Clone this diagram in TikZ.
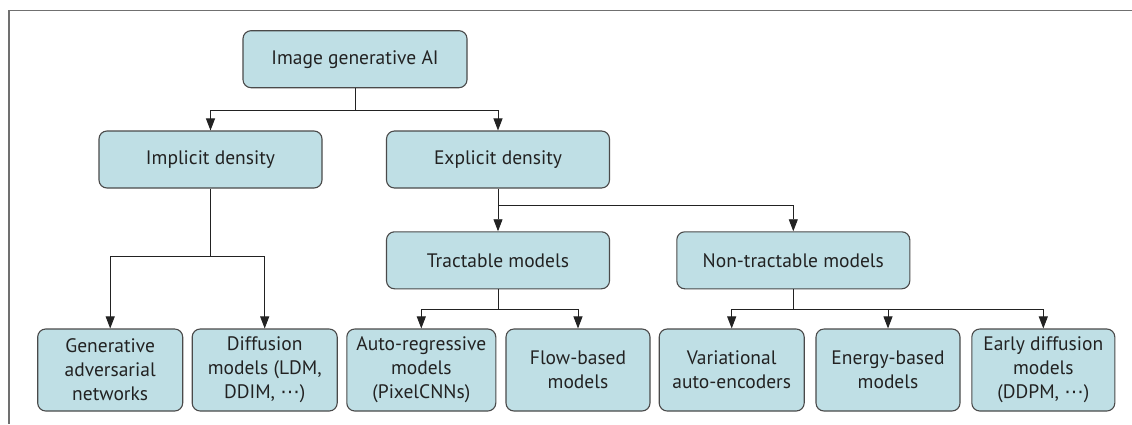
\documentclass[tikz,border=0pt]{standalone}
\usepackage{fontspec}
\setmainfont{PT Sans}
\newfontfamily\symfont{DejaVu Sans}
\usetikzlibrary{arrows.meta}
\definecolor{boxfill}{HTML}{BFDFE5}
\definecolor{boxline}{HTML}{4A4A4A}
\definecolor{framecol}{HTML}{707070}
\definecolor{txt}{HTML}{222222}
\newcommand{\midellip}{{\symfont ⋯}}
\tikzset{
  box/.style={draw=boxline, line width=1.1pt, fill=boxfill, rounded corners=8pt,
    align=center, inner sep=0pt, text=txt,
    font=\fontsize{19.5}{24}\selectfont},
  midbox/.style={box, minimum height=57pt},
  leafbox/.style={box, minimum height=82pt, minimum width=145pt},
  link/.style={draw=txt, line width=0.9pt},
  arr/.style={link, -{Triangle[length=12pt,width=9pt]}}
}
\begin{document}
\begin{tikzpicture}[x=1pt, y=-1pt]
  \useasboundingbox (0,0) rectangle (1132,424);
  % open frame along the top and left
  \draw[framecol, line width=1.5pt] (1132,10.7) -- (9,10.7) -- (9,424);

  % hierarchy
  \node[midbox, minimum width=224pt] (root) at (355,59.2) {Image generative AI};
  \node[midbox, minimum width=223pt] (impl) at (210.5,159.5) {Implicit density};
  \node[midbox, minimum width=223pt] (expl) at (498,159.5) {Explicit density};
  \node[midbox, minimum width=223pt] (trac) at (498,260.3) {Tractable models};
  \node[midbox, minimum width=233pt] (nont) at (793.3,260.3) {Non-tractable models};

  \node[leafbox] (gan)   at (110.2,370) {Generative\\adversarial\\networks};
  \node[leafbox] (diff)  at (264.7,370) {Diffusion\\models (LDM,\\DDIM, \midellip)};
  \node[leafbox, minimum width=149pt] (ar) at (421.3,370) {Auto-regressive\\models\\(PixelCNNs)};
  \node[leafbox, minimum width=144pt] (flow) at (578,370) {Flow-based\\models};
  \node[leafbox] (vae)   at (731.7,370) {Variational\\auto-encoders};
  \node[leafbox, minimum width=144pt] (ebm) at (888,370) {Energy-based\\models};
  \node[leafbox, minimum width=143pt] (early) at (1043.3,370) {Early diffusion\\models\\(DDPM, \midellip)};

  % branch points
  \coordinate (j1) at (355,110);
  \coordinate (j2) at (210.5,256.7);
  \coordinate (j3) at (498,205);
  \coordinate (j4) at (498,309);
  \coordinate (j5) at (793.3,309);

  % connectors
  \draw[link] (root.south) -- (j1);
  \draw[arr] (j1) -| (impl.north);
  \draw[arr] (j1) -| (expl.north);

  \draw[link] (impl.south) -- (j2);
  \draw[arr] (j2) -| (gan.north);
  \draw[arr] (j2) -| (diff.north);

  \draw[arr] (expl.south) -- (trac.north);
  \draw[arr] (j3) -| (nont.north);

  \draw[link] (trac.south) -- (j4);
  \draw[arr] (j4) -| (ar.north);
  \draw[arr] (j4) -| (flow.north);

  \draw[link] (nont.south) -- (j5);
  \draw[arr] (j5) -| (vae.north);
  \draw[arr] (j5) -| (ebm.north);
  \draw[arr] (j5) -| (early.north);
\end{tikzpicture}
\end{document}
